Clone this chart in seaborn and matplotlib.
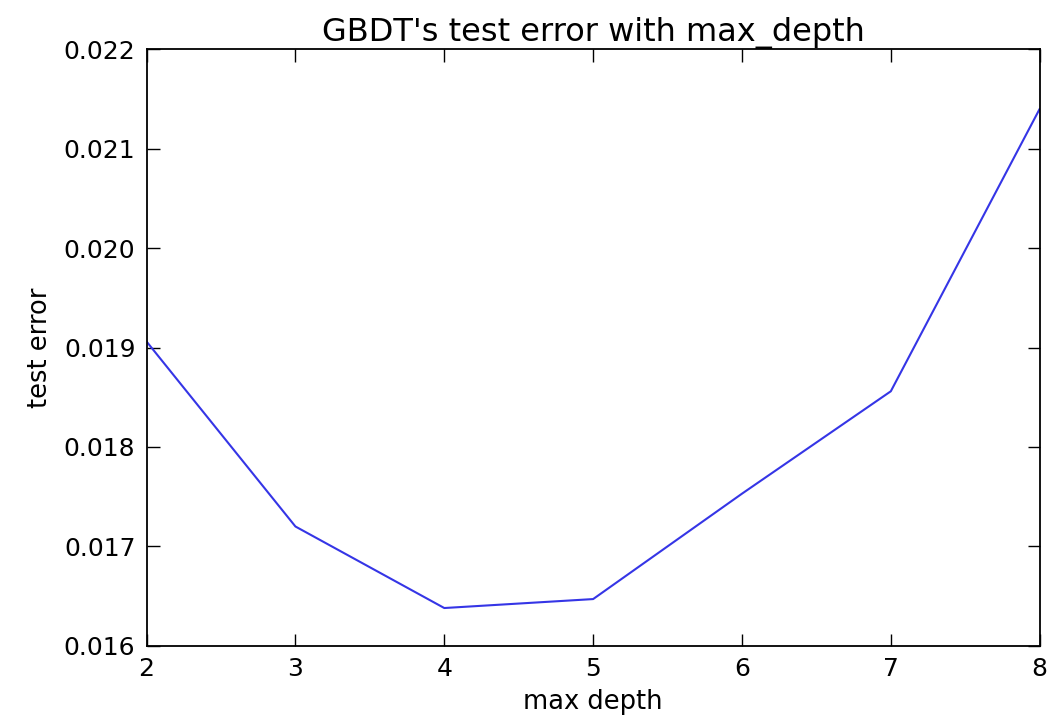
import matplotlib
matplotlib.use("Agg")
import matplotlib.pyplot as plt
import seaborn as sns
import pandas as pd

# profundidade maxima da arvore e erro de teste
max_depth = [2, 3, 4, 5, 6, 7, 8]
test_error = [0.01906, 0.01720, 0.01638, 0.01647, 0.01753, 0.01856, 0.02140]

sns.set_theme(style="white")
plt.rcParams["font.family"] = ["DejaVu Sans"]
plt.rcParams["xtick.direction"] = "in"
plt.rcParams["ytick.direction"] = "in"
plt.rcParams["text.color"] = "black"
plt.rcParams["axes.labelcolor"] = "black"
plt.rcParams["xtick.labelcolor"] = "black"
plt.rcParams["ytick.labelcolor"] = "black"

df = pd.DataFrame({"max depth": max_depth, "test error": test_error})

fig = plt.figure(figsize=(10.47, 7.24), dpi=100)
ax = fig.add_axes([0.140, 0.108, 0.853, 0.824])
sns.lineplot(data=df, x="max depth", y="test error", color="#3535e6",
             linewidth=1.5, ax=ax)

ax.set_xlim(2, 8)
ax.set_ylim(0.016, 0.022)
ax.set_yticks([0.016, 0.017, 0.018, 0.019, 0.020, 0.021, 0.022])
ax.yaxis.set_major_formatter(matplotlib.ticker.FormatStrFormatter("%.3f"))
ax.tick_params(axis="both", which="major", labelsize=18, length=9, width=1,
               color="black", top=True, right=True, bottom=True, left=True,
               pad=8)
for s in ax.spines.values():
    s.set_color("black")
    s.set_linewidth(1.3)

ax.set_xlabel("max depth", fontsize=18.5, labelpad=6)
ax.set_ylabel("test error", fontsize=18.5, labelpad=8)
ax.set_title("GBDT's test error with max_depth", fontsize=23, pad=6)

fig.savefig("out.png", dpi=100)
